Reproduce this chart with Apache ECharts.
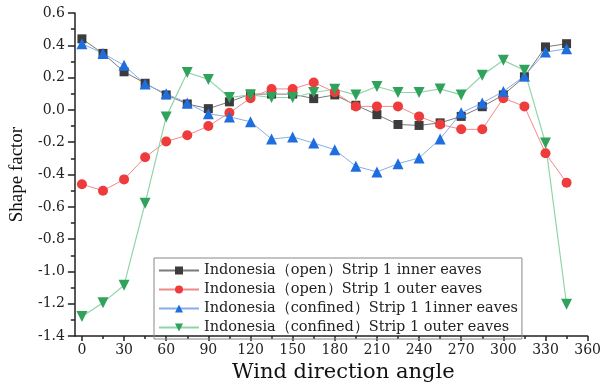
<!DOCTYPE html>
<html>
<head>
<meta charset="utf-8">
<script src="https://cdn.jsdelivr.net/npm/echarts@6/dist/echarts.min.js"></script>
<style>
  html, body { margin: 0; padding: 0; background: #fff; }
  #main { width: 604px; height: 388px; }
</style>
</head>
<body>
<div id="main"></div>
<script>
var angles = [0, 15, 30, 45, 60, 75, 90, 105, 120, 135, 150, 165, 180, 195, 210, 225, 240, 255, 270, 285, 300, 315, 330, 345];

// Indonesia (open) Strip 1 inner eaves
var openInner = [0.44, 0.35, 0.236, 0.165, 0.093, 0.037, 0.008, 0.05, 0.098, 0.098, 0.098, 0.07, 0.093, 0.029, -0.029, -0.09, -0.096, -0.08, -0.04, 0.02, 0.093, 0.205, 0.39, 0.41];
// Indonesia (open) Strip 1 outer eaves
var openOuter = [-0.46, -0.5, -0.43, -0.293, -0.195, -0.157, -0.1, -0.018, 0.073, 0.13, 0.13, 0.17, 0.11, 0.022, 0.022, 0.022, -0.04, -0.09, -0.12, -0.12, 0.073, 0.022, -0.268, -0.45];
// Indonesia (confined) Strip 1 inner eaves
var confInner = [0.41, 0.35, 0.276, 0.16, 0.10, 0.043, -0.024, -0.043, -0.073, -0.18, -0.167, -0.205, -0.246, -0.348, -0.384, -0.333, -0.297, -0.18, -0.018, 0.043, 0.114, 0.21, 0.358, 0.378];
// Indonesia (confined) Strip 1 outer eaves
var confOuter = [-1.279, -1.193, -1.085, -0.577, -0.043, 0.232, 0.189, 0.077, 0.093, 0.077, 0.077, 0.108, 0.128, 0.093, 0.145, 0.108, 0.108, 0.13, 0.093, 0.215, 0.307, 0.246, -0.205, -1.203];

var seriesNames = [
  'Indonesia（open）Strip 1 inner eaves',
  'Indonesia（open）Strip 1 outer eaves',
  'Indonesia（confined）Strip 1 1inner eaves',
  'Indonesia（confined）Strip 1 outer eaves'
];

var majorTicks = [0, 30, 60, 90, 120, 150, 180, 210, 240, 270, 300, 330, 360];
var minorTicks = [15, 45, 75, 105, 135, 165, 195, 225, 255, 285, 315, 345];

function pairs(vals) {
  return angles.map(function (a, i) { return [a, vals[i]]; });
}

var serif = 'DejaVu Serif';
var chart = echarts.init(document.getElementById('main'));

var option = {
  animation: false,
  backgroundColor: '#fff',
  grid: { left: 73, right: 15, top: 13, bottom: 46 },
  legend: {
    orient: 'vertical',
    left: 154,
    top: 258,
    padding: [5, 4, 4, 4],
    borderColor: '#888',
    borderWidth: 1,
    itemWidth: 40,
    itemHeight: 10,
    itemGap: 4,
    textStyle: { fontFamily: serif, fontSize: 14.5, color: '#222', lineHeight: 14 },
    data: seriesNames
  },
  xAxis: [
    {
      type: 'value',
      min: -5,
      max: 360,
      name: 'Wind direction angle',
      nameLocation: 'middle',
      nameGap: 22,
      nameTextStyle: { fontFamily: serif, fontSize: 21, color: '#111', padding: [0, 0, 0, 24] },
      axisLine: { onZero: false, lineStyle: { color: '#222', width: 1.5 } },
      axisTick: { customValues: majorTicks, length: 5, lineStyle: { color: '#222', width: 1.5 } },
      axisLabel: { customValues: majorTicks, fontFamily: serif, fontSize: 14, color: '#222', margin: 7 },
      splitLine: { show: false }
    },
    {
      type: 'value',
      min: -5,
      max: 360,
      position: 'bottom',
      axisLine: { show: false, onZero: false },
      axisTick: { customValues: minorTicks, length: 3, lineStyle: { color: '#222', width: 1.5 } },
      axisLabel: { show: false },
      splitLine: { show: false }
    }
  ],
  yAxis: {
    type: 'value',
    min: -1.4,
    max: 0.6,
    interval: 0.2,
    name: 'Shape factor',
    nameLocation: 'middle',
    nameGap: 47,
    nameTextStyle: { fontFamily: 'Liberation Serif', fontSize: 19, color: '#111' },
    axisLine: { show: true, onZero: false, lineStyle: { color: '#222', width: 1.5 } },
    axisTick: { length: 7, lineStyle: { color: '#222', width: 1.5 } },
    minorTick: { show: true, splitNumber: 2, length: 4, lineStyle: { color: '#222', width: 1.5 } },
    axisLabel: {
      fontFamily: serif, fontSize: 14, color: '#222', margin: 10,
      formatter: function (v) { return v.toFixed(1); }
    },
    splitLine: { show: false }
  },
  series: [
    {
      name: seriesNames[0], type: 'line', data: pairs(openInner),
      symbol: 'rect', symbolSize: 9,
      itemStyle: { color: '#3c3c3c' },
      lineStyle: { color: '#7a7a7a', width: 1 }
    },
    {
      name: seriesNames[1], type: 'line', data: pairs(openOuter),
      symbol: 'circle', symbolSize: 10,
      itemStyle: { color: '#ee3b3b' },
      lineStyle: { color: '#f08a8a', width: 1 }
    },
    {
      name: seriesNames[2], type: 'line', data: pairs(confInner),
      symbol: 'triangle', symbolSize: 11,
      itemStyle: { color: '#1e6ee0' },
      lineStyle: { color: '#86aee8', width: 1 }
    },
    {
      name: seriesNames[3], type: 'line', data: pairs(confOuter),
      symbol: 'triangle', symbolSize: 11, symbolRotate: 180,
      itemStyle: { color: '#2fa35c' },
      lineStyle: { color: '#92d4aa', width: 1.2 }
    }
  ]
};

chart.setOption(option);
</script>
</body>
</html>
